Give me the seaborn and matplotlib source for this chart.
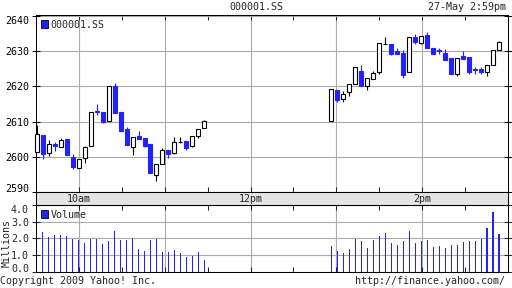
import numpy as np
import pandas as pd
import matplotlib
matplotlib.use("Agg")
import matplotlib.pyplot as plt
import seaborn as sns
from matplotlib.patches import Patch

# ---------------- data ----------------
# minutes after 9:30 for each 1-day bar (morning and afternoon session)
times_am = [0.5, 4.7, 8.9, 13.1, 17.3, 21.4, 25.6, 29.8, 34.0, 38.2, 42.4, 46.6, 50.7, 54.9,
            59.1, 63.3, 67.5, 71.7, 75.9, 80.0, 84.2, 88.4, 92.6, 96.8, 101.0, 105.2, 109.3,
            113.5, 117.7]
times_pm = [206.5, 210.7, 214.9, 219.1, 223.3, 227.5, 231.6, 235.8, 240.0, 244.2, 248.4,
            252.6, 256.8, 261.0, 265.2, 269.4, 273.5, 277.7, 281.9, 286.1, 290.3, 294.5,
            298.7, 302.9, 307.1, 311.3, 315.4, 319.6, 323.8]

open_am = [2601.4, 2606.3, 2601.1, 2603.5, 2602.8, 2605.1, 2600.0, 2596.8, 2599.7, 2603.1,
           2613.0, 2612.8, 2610.3, 2620.0, 2612.6, 2607.9, 2602.8, 2606.0, 2605.4, 2603.5,
           2594.7, 2597.9, 2601.8, 2601.1, 2604.1, 2604.6, 2603.2, 2605.8, 2608.1]
high_am = [2609.1, 2606.3, 2604.9, 2604.2, 2605.4, 2605.1, 2600.7, 2599.4, 2603.2, 2612.6,
           2615.0, 2612.8, 2620.0, 2621.1, 2612.6, 2608.4, 2605.6, 2607.2, 2605.4, 2603.7,
           2598.0, 2602.4, 2601.8, 2605.6, 2605.6, 2604.6, 2605.9, 2607.9, 2610.5]
low_am = [2601.4, 2599.5, 2600.2, 2601.6, 2602.8, 2600.5, 2596.5, 2596.8, 2598.3, 2603.1,
          2612.0, 2609.5, 2609.8, 2612.3, 2607.3, 2603.3, 2600.6, 2605.0, 2602.8, 2595.4,
          2593.0, 2597.9, 2599.7, 2600.7, 2604.0, 2601.9, 2602.8, 2605.3, 2608.1]
close_am = [2606.5, 2600.8, 2603.7, 2603.0, 2604.8, 2600.5, 2597.1, 2599.4, 2602.8, 2612.6,
            2612.7, 2610.0, 2620.0, 2612.3, 2607.3, 2603.3, 2605.6, 2605.0, 2603.2, 2595.4,
            2598.0, 2601.9, 2600.9, 2604.2, 2604.1, 2602.5, 2605.9, 2607.9, 2610.1]

open_pm = [2610.2, 2619.0, 2616.4, 2618.3, 2620.6, 2624.3, 2620.0, 2622.0, 2624.0, 2632.0,
           2632.0, 2630.0, 2629.4, 2624.2, 2634.0, 2632.4, 2634.5, 2631.0, 2630.2, 2629.6,
           2628.0, 2623.4, 2628.6, 2628.3, 2624.9, 2624.9, 2624.0, 2626.2, 2630.4]
high_pm = [2619.4, 2619.0, 2618.7, 2620.6, 2625.4, 2626.0, 2622.5, 2624.3, 2632.2, 2633.9,
           2632.0, 2630.8, 2630.2, 2633.9, 2634.8, 2634.2, 2635.5, 2631.0, 2631.0, 2630.6,
           2628.0, 2628.2, 2630.0, 2628.3, 2625.6, 2625.4, 2626.2, 2630.2, 2633.0]
low_pm = [2610.2, 2615.5, 2615.7, 2617.4, 2620.6, 2620.1, 2619.1, 2622.0, 2623.4, 2632.0,
          2629.0, 2629.3, 2622.5, 2624.2, 2632.1, 2632.0, 2630.8, 2629.1, 2629.3, 2627.5,
          2623.4, 2623.0, 2627.9, 2623.6, 2623.6, 2623.6, 2623.0, 2626.2, 2630.4]
close_pm = [2619.4, 2616.1, 2617.7, 2620.6, 2625.4, 2620.1, 2622.5, 2623.7, 2632.2, 2632.0,
            2629.3, 2629.3, 2623.2, 2633.9, 2632.6, 2634.2, 2630.8, 2629.1, 2630.0, 2627.5,
            2623.4, 2628.2, 2627.9, 2624.2, 2624.7, 2624.2, 2626.2, 2630.2, 2632.5]

# volume in millions
vol_am = [0.0, 2.39, 2.08, 2.20, 2.20, 2.14, 1.98, 1.92, 1.71, 1.98, 1.98, 1.65, 1.84, 2.45,
          1.90, 1.90, 2.02, 1.37, 1.22, 1.90, 1.98, 1.16, 1.16, 1.29, 1.10, 0.86, 0.92, 1.16,
          0.67]
vol_pm = [1.53, 1.22, 1.10, 1.35, 1.98, 1.84, 1.41, 1.90, 2.14, 2.33, 1.71, 1.59, 1.84, 2.45,
          1.71, 1.84, 1.90, 1.47, 1.53, 1.41, 1.59, 1.59, 1.78, 1.84, 1.84, 1.98, 2.63, 3.55,
          2.27]

price_ticks = [2590, 2600, 2610, 2620, 2630, 2640]
vol_ticks = [0.0, 1.0, 2.0, 3.0, 4.0]
hour_ticks = [30, 90, 150, 210, 270]
half_ticks = [60, 120, 180, 240, 300]
time_labels = {30: "10am", 150: "12pm", 270: "2pm"}

# ---------------- style ----------------
BLUE = "#2222ff"
GRID = "#aaaaaa"
BAND = "#e4e4e4"
FS = 7.2

sns.set_style("white")
plt.rcParams["font.family"] = ["DejaVu Sans Mono", "DejaVu Sans"]
plt.rcParams["axes.linewidth"] = 0.75

df = pd.DataFrame({
    "t": times_am + times_pm,
    "o": open_am + open_pm,
    "h": high_am + high_pm,
    "l": low_am + low_pm,
    "c": close_am + close_pm,
    "v": vol_am + vol_pm,
})

W, H = 512, 288
fig = plt.figure(figsize=(W / 100, H / 100), dpi=100)


def rect(l, t, r, b):
    return [l / W, 1 - b / H, (r - l) / W, (b - t) / H]


axp = fig.add_axes(rect(36, 15, 508, 192))
axb = fig.add_axes(rect(36, 192, 508, 205))
axv = fig.add_axes(rect(36, 205, 508, 271.5))

# ---------------- candles ----------------
up = df["c"] >= df["o"]
for sub, face, edge in [(df[up], "white", "black"), (df[~up], BLUE, BLUE)]:
    axp.vlines(sub["t"], sub["l"], sub["h"], color=edge, lw=0.8, zorder=3, clip_on=False)
    axp.bar(sub["t"], (sub["c"] - sub["o"]).abs(), bottom=sub[["o", "c"]].min(axis=1),
            width=2.8, facecolor=face, edgecolor=edge, lw=0.8, zorder=4, clip_on=False)

axp.set_xlim(0, 330)
axp.set_ylim(2590, 2640.28)
axp.set_yticks(price_ticks)
axp.set_yticklabels([str(v) for v in price_ticks], fontsize=FS)
ylabs = axp.get_yticklabels()
ylabs[-1].set_va("top")
ylabs[0].set_va("baseline")
axp.set_xticks(hour_ticks)
axp.set_xticks(half_ticks, minor=True)
axp.set_xticklabels([])
axp.grid(True, which="major", color=GRID, lw=0.8, zorder=0)
axp.set_axisbelow(True)
axp.tick_params(axis="y", which="both", direction="inout", length=6, width=0.75,
                left=True, right=True, pad=2, colors="black")
axp.tick_params(axis="x", which="both", direction="in", length=3.5, width=0.75,
                top=True, bottom=True, labelbottom=False)
for s in axp.spines.values():
    s.set_color("black")
axp.legend(handles=[Patch(facecolor=BLUE, edgecolor="black", lw=0.6, label="000001.SS")],
           loc="upper left", frameon=False, fontsize=FS, handlelength=0.75,
           handleheight=0.75, handletextpad=0.25, borderaxespad=0.25, borderpad=0.2)

# ---------------- time band ----------------
axb.set_facecolor(BAND)
axb.set_xlim(0, 330)
axb.set_ylim(0, 1)
axb.set_xticks([])
axb.set_yticks([])
for s in axb.spines.values():
    s.set_color("black")
for x, lab in time_labels.items():
    axb.text(x, 0.45, lab, ha="center", va="center", fontsize=FS)

# ---------------- volume ----------------
sns.barplot(data=df, x="t", y="v", native_scale=True, color=BLUE, saturation=1,
            width=0.22, errorbar=None, linewidth=0, ax=axv, zorder=3)
axv.set_xlim(0, 330)
axv.set_ylim(0, 4.0)
axv.set_yticks(vol_ticks)
axv.set_yticklabels([f"{v:.1f}" for v in vol_ticks], fontsize=FS)
vlabs = axv.get_yticklabels()
vlabs[-1].set_va("top")
vlabs[0].set_va("baseline")
axv.set_xticks(hour_ticks)
axv.set_xticks(half_ticks, minor=True)
axv.set_xticklabels([])
axv.set_xlabel("")
axv.set_ylabel("")
axv.grid(True, which="major", color=GRID, lw=0.8, zorder=0)
axv.set_axisbelow(True)
axv.tick_params(axis="y", which="both", direction="inout", length=6, width=0.75,
                left=True, right=True, pad=2)
axv.tick_params(axis="x", which="both", direction="in", length=3.5, width=0.75,
                top=True, bottom=True, labelbottom=False)
for s in axv.spines.values():
    s.set_color("black")
axv.legend(handles=[Patch(facecolor=BLUE, edgecolor="black", lw=0.6, label="Volume")],
           loc="upper left", frameon=False, fontsize=FS, handlelength=0.75,
           handleheight=0.75, handletextpad=0.25, borderaxespad=0.25, borderpad=0.2)

# ---------------- texts ----------------
fig.text(256 / W, 1 - 7.5 / H, "000001.SS", ha="center", va="center", fontsize=FS)
fig.text(506 / W, 1 - 7.5 / H, "27-May 2:59pm", ha="right", va="center", fontsize=FS)
fig.text(6.5 / W, 1 - 243 / H, "Millions", ha="center", va="center", rotation=90,
         fontsize=FS)
fig.text(0.5 / W, 1 - 281 / H, "Copyright 2009 Yahoo! Inc.", ha="left", va="center",
         fontsize=FS)
fig.text(505 / W, 1 - 281 / H, "http://finance.yahoo.com/", ha="right", va="center",
         fontsize=FS)

fig.savefig("out.png", dpi=100)
